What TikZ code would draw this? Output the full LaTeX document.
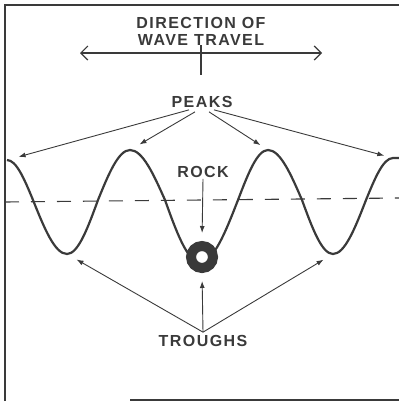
\documentclass[tikz,border=0pt]{standalone}
\usepackage{fontspec}
\setmainfont{Liberation Sans}
\usetikzlibrary{arrows.meta}
\definecolor{ink}{HTML}{3A3A3A}
\tikzset{
  caption/.style={font=\fontsize{16}{16.5}\selectfont\bfseries\addfontfeature{LetterSpace=9},
    text=ink, inner sep=1pt, align=center},
  pointer/.style={draw=ink, line width=0.9pt, -{Latex[length=7pt,width=5pt]}},
}
\begin{document}
\begin{tikzpicture}[x=1pt,y=-1pt]
  \useasboundingbox (0,0) rectangle (399,402);
  % frame
  \draw[ink, line width=1.6pt] (5,401) -- (5,5) -- (399,5);
  \draw[ink, line width=1.6pt] (130,400) -- (399,400);
  % direction of travel
  \node[caption] (title) at (201,31.5) {DIRECTION OF\\WAVE TRAVEL};
  \coordinate (dirl) at (80,53);
  \coordinate (dirr) at (322,53);
  \coordinate (tickt) at (201,45);
  \coordinate (tickb) at (201,75);
  \draw[ink, line width=1.2pt, {Straight Barb[length=7pt,width=14pt]}-{Straight Barb[length=7pt,width=14pt]}] (dirl) -- (dirr);
  \draw[ink, line width=1.2pt] (tickt) -- (tickb);
  % still water level
  \coordinate (levl) at (5,202);
  \coordinate (levr) at (399,198);
  \draw[ink, line width=1.1pt, dash pattern=on 14pt off 12pt] (levl) -- (levr);
  % the wave
  \coordinate (p1) at (7,160);
  \coordinate (t1) at (67,254);
  \coordinate (p2) at (130,150);
  \coordinate (t2) at (200,262);
  \coordinate (p3) at (268,150);
  \coordinate (t3) at (333,254);
  \coordinate (p4) at (393,158);
  \draw[ink, line width=2.2pt] (p1) cos (33,200) sin (t1) cos (98,200) sin (p2)
    cos (165,200) sin (t2) cos (238,200) sin (p3) cos (302,200) sin (t3)
    cos (366,200) sin (p4) -- (399,158);
  \node[circle, draw=ink, line width=10pt, fill=white, minimum size=22pt, inner sep=0pt] (rock) at (202,257) {};
  % labels
  \node[caption] (peaks) at (202,102) {PEAKS};
  \node[caption] (rocklbl) at (203,172) {ROCK};
  \node[caption] (troughs) at (203,341) {TROUGHS};
  \draw[pointer, shorten >=12pt] ([xshift=-13pt,yshift=-1pt]peaks.south) -- (p1);
  \draw[pointer, shorten >=11pt] ([xshift=-7pt,yshift=-3pt]peaks.south) -- (p2);
  \draw[pointer, shorten >=9pt] ([xshift=7pt,yshift=-3pt]peaks.south) -- (p3);
  \draw[pointer, shorten >=9pt] ([xshift=12pt,yshift=-1pt]peaks.south) -- (p4);
  \draw[pointer, shorten >=8pt] (rocklbl.south) -- (rock.north);
  \draw[pointer, shorten >=11pt] ([yshift=2pt]troughs.north) -- (t1);
  \draw[pointer, shorten >=8pt] ([yshift=2pt]troughs.north) -- (rock.south);
  \draw[pointer, shorten >=11pt] ([yshift=2pt]troughs.north) -- (t3);
\end{tikzpicture}
\end{document}
